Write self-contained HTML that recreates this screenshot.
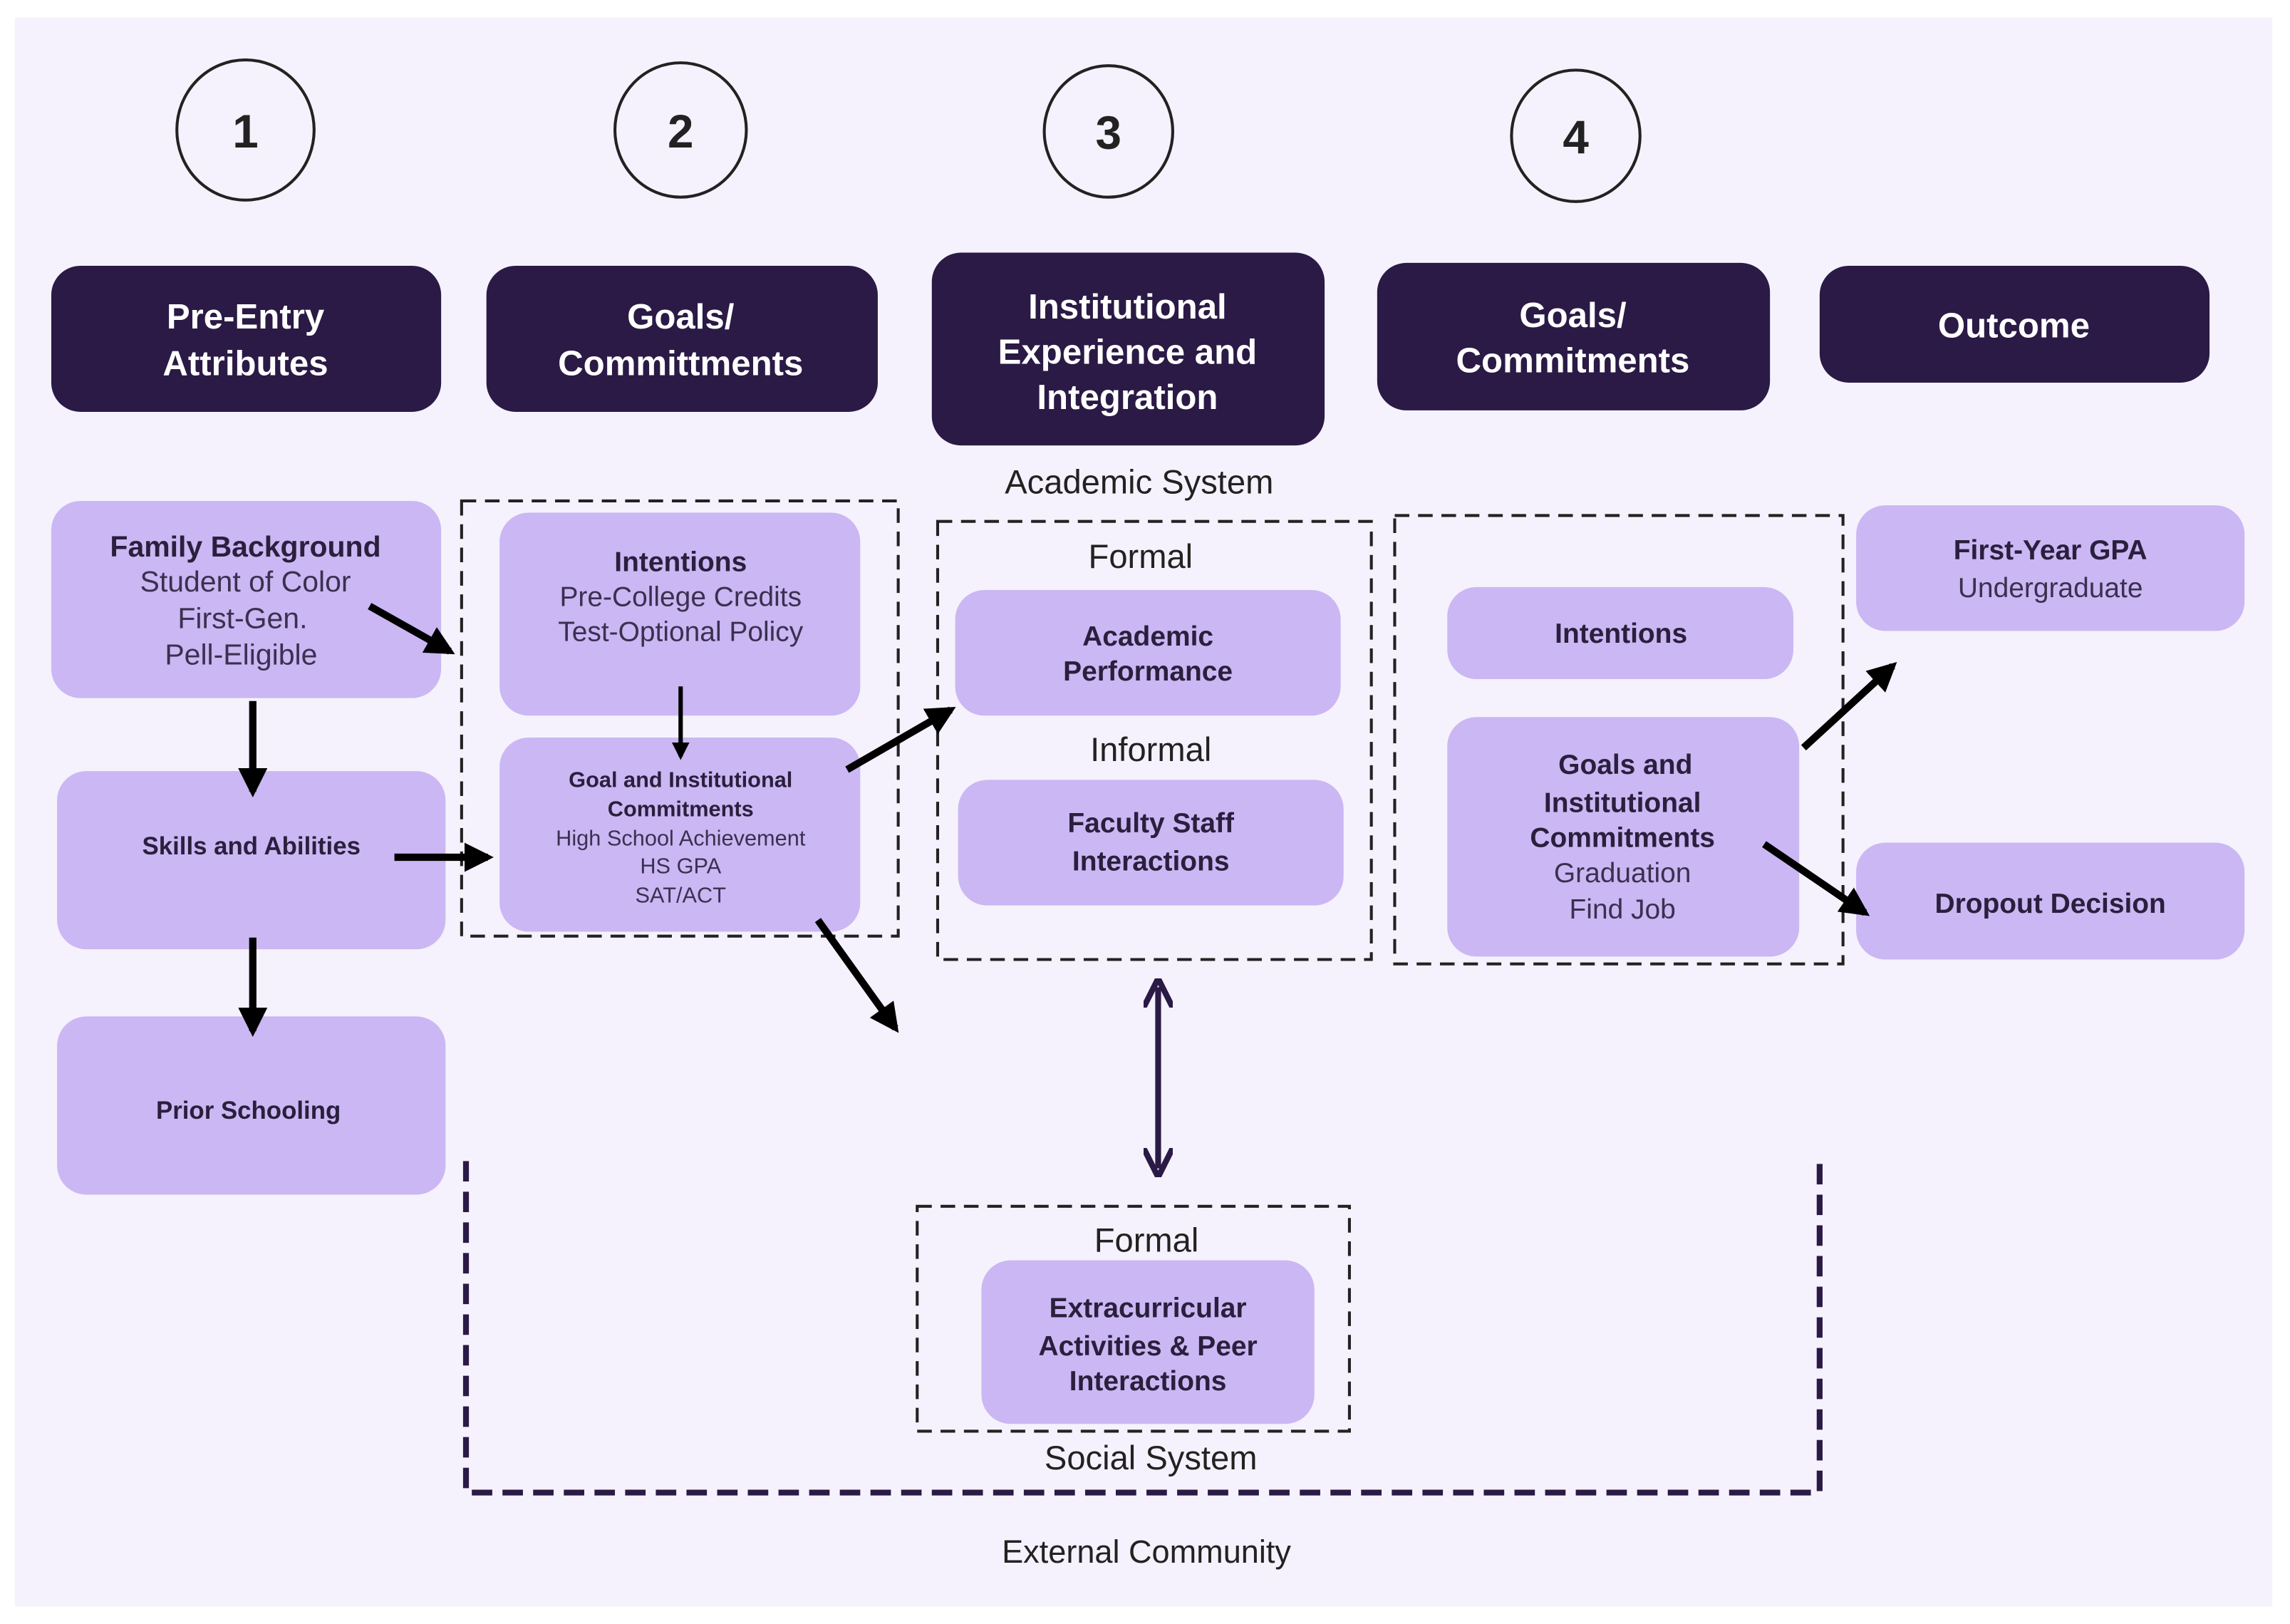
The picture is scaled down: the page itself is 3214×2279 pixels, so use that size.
<!DOCTYPE html>
<html><head><meta charset="utf-8"><style>
html,body{margin:0;padding:0;background:#fff}
svg{display:block}
text{font-family:"Liberation Sans",sans-serif;text-anchor:middle}
.h{fill:#fff;font-weight:bold;font-size:24px}
.b{fill:#2a1f3d;font-weight:bold}
.n{fill:#3a3050}
</style></head><body>
<svg width="3214" height="2279" viewBox="0 0 1568 1112" xmlns="http://www.w3.org/2000/svg">
<defs>
<marker id="ah" viewBox="0 0 10 10" refX="8" refY="5" markerWidth="4" markerHeight="4" orient="auto-start-reverse"><path d="M0,0 L10,5 L0,10 z" fill="#000"/></marker>
<marker id="ad" viewBox="0 0 10 10" refX="7" refY="5" markerWidth="5" markerHeight="5" orient="auto-start-reverse"><path d="M0,0 L10,5 L0,10" fill="none" stroke="#2a1a45" stroke-width="2"/></marker>
</defs>
<rect width="1568" height="1112" fill="#fff"/>
<rect x="10" y="12" width="1546" height="1088" fill="#f5f2fd"/>
<g fill="none" stroke="#222" stroke-width="2">
<ellipse cx="168" cy="89" rx="47" ry="48"/><ellipse cx="466" cy="89" rx="45" ry="46"/>
<ellipse cx="759" cy="90" rx="44" ry="45"/><ellipse cx="1079" cy="93" rx="44" ry="45"/></g>
<g font-size="32" font-weight="bold" fill="#222">
<text x="168" y="101">1</text><text x="466" y="101">2</text><text x="759" y="102">3</text><text x="1079" y="105">4</text></g>
<g fill="#2a1a45">
<rect x="35" y="182" width="267" height="100" rx="20"/><rect x="333" y="182" width="268" height="100" rx="20"/>
<rect x="638" y="173" width="269" height="132" rx="20"/><rect x="943" y="180" width="269" height="101" rx="20"/>
<rect x="1246" y="182" width="267" height="80" rx="20"/></g>
<text class="h" x="168" y="225">Pre-Entry</text><text class="h" x="168" y="257">Attributes</text>
<text class="h" x="466" y="225">Goals/</text><text class="h" x="466" y="257">Committments</text>
<text class="h" x="772" y="218">Institutional</text><text class="h" x="772" y="249">Experience and</text><text class="h" x="772" y="280">Integration</text>
<text class="h" x="1077" y="224">Goals/</text><text class="h" x="1077" y="255">Commitments</text>
<text class="h" x="1379" y="231">Outcome</text>
<g fill="#cbb7f3">
<rect x="35" y="343" width="267" height="135" rx="20"/><rect x="39" y="528" width="266" height="122" rx="20"/>
<rect x="39" y="696" width="266" height="122" rx="20"/><rect x="342" y="351" width="247" height="139" rx="20"/>
<rect x="342" y="505" width="247" height="133" rx="20"/><rect x="654" y="404" width="264" height="86" rx="20"/>
<rect x="656" y="534" width="264" height="86" rx="20"/><rect x="991" y="402" width="237" height="63" rx="20"/>
<rect x="991" y="491" width="241" height="164" rx="20"/><rect x="1271" y="346" width="266" height="86" rx="20"/>
<rect x="1271" y="577" width="266" height="80" rx="20"/><rect x="672" y="863" width="228" height="112" rx="20"/></g>
<g fill="none" stroke="#222" stroke-width="2" stroke-dasharray="10,6">
<rect x="316" y="343" width="299" height="298"/><rect x="642" y="357" width="297" height="300"/>
<rect x="955" y="353" width="307" height="307"/><rect x="628" y="826" width="296" height="154"/></g>
<path d="M319,795 V1022 H1246 V795" fill="none" stroke="#2a1a45" stroke-width="4" stroke-dasharray="14,7"/>
<text class="b" font-size="20" x="168" y="381">Family Background</text>
<text class="n" font-size="20" x="168" y="405">Student of Color</text>
<text class="n" font-size="20" x="166" y="430">First-Gen.</text>
<text class="n" font-size="20" x="165" y="455">Pell-Eligible</text>
<text class="b" font-size="17" x="172" y="585">Skills and Abilities</text>
<text class="b" font-size="17" x="170" y="766">Prior Schooling</text>
<text class="b" font-size="19" x="466" y="391">Intentions</text>
<text class="n" font-size="19" x="466" y="415">Pre-College Credits</text>
<text class="n" font-size="19" x="466" y="439">Test-Optional Policy</text>
<text class="b" font-size="15" x="466" y="539">Goal and Institutional</text>
<text class="b" font-size="15" x="466" y="559">Commitments</text>
<text class="n" font-size="15" x="466" y="579">High School Achievement</text>
<text class="n" font-size="15" x="466" y="598">HS GPA</text>
<text class="n" font-size="15" x="466" y="618">SAT/ACT</text>
<text class="b" font-size="19" x="786" y="442">Academic</text>
<text class="b" font-size="19" x="786" y="466">Performance</text>
<text class="b" font-size="19" x="788" y="570">Faculty Staff</text>
<text class="b" font-size="19" x="788" y="596">Interactions</text>
<text class="b" font-size="19" x="1110" y="440">Intentions</text>
<text class="b" font-size="19" x="1113" y="530">Goals and</text>
<text class="b" font-size="19" x="1111" y="556">Institutional</text>
<text class="b" font-size="19" x="1111" y="580">Commitments</text>
<text class="n" font-size="19" x="1111" y="604">Graduation</text>
<text class="n" font-size="19" x="1111" y="629">Find Job</text>
<text class="b" font-size="19" x="1404" y="383">First-Year GPA</text>
<text class="n" font-size="19" x="1404" y="409">Undergraduate</text>
<text class="b" font-size="19" x="1404" y="625">Dropout Decision</text>
<text class="b" font-size="19" x="786" y="902">Extracurricular</text>
<text class="b" font-size="19" x="786" y="928">Activities &amp; Peer</text>
<text class="b" font-size="19" x="786" y="952">Interactions</text>
<g fill="#222" font-size="23">
<text x="780" y="338">Academic System</text><text x="781" y="389">Formal</text><text x="788" y="521">Informal</text>
<text x="785" y="857">Formal</text><text x="788" y="1006">Social System</text></g>
<text x="785" y="1070" font-size="22" fill="#222">External Community</text>
<g stroke="#000" stroke-width="5" marker-end="url(#ah)">
<line x1="253" y1="415" x2="308" y2="446"/><line x1="173" y1="480" x2="173" y2="542"/>
<line x1="466" y1="470" x2="466" y2="518" stroke-width="3"/><line x1="270" y1="587" x2="334" y2="587"/>
<line x1="580" y1="527" x2="651" y2="486"/><line x1="560" y1="630" x2="613" y2="704"/>
<line x1="173" y1="642" x2="173" y2="706"/><line x1="1235" y1="512" x2="1296" y2="456"/>
<line x1="1208" y1="578" x2="1277" y2="625"/></g>
<line x1="793" y1="676" x2="793" y2="800" stroke="#2a1a45" stroke-width="4" marker-start="url(#ad)" marker-end="url(#ad)"/>
</svg>
</body></html>
